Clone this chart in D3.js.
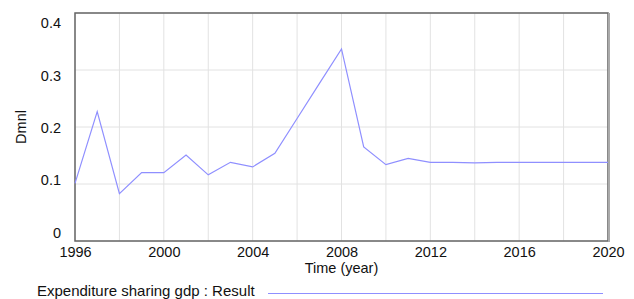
<!DOCTYPE html>
<html lang="en">
<head>
    <meta charset="UTF-8">
    <script src="https://d3js.org/d3.v7.min.js"></script>
</head>
<style>
    body { margin: 0; background-color: #fff; }
    #viz { display: block; }
    .tick text { font-family: 'Liberation Sans', Arial, sans-serif; font-size: 14.5px; fill: #111; }
    .lbl { font-family: 'Liberation Sans', Arial, sans-serif; font-size: 14.5px; fill: #111; }
</style>
<body>
    <svg id="viz" width="634" height="299"></svg>
    <script>
    // values
    var years = [1996, 1997, 1998, 1999, 2000, 2001, 2002, 2003, 2004, 2005, 2006, 2007, 2008,
                 2009, 2010, 2011, 2012, 2013, 2014, 2015, 2016, 2017, 2018, 2019, 2020];
    var result = [0.101, 0.227, 0.083, 0.120, 0.120, 0.151, 0.116, 0.138, 0.130, 0.154, 0.215, 0.276, 0.337,
                  0.165, 0.134, 0.145, 0.138, 0.138, 0.137, 0.138, 0.138, 0.138, 0.138, 0.138, 0.138];
    var xTicks = [1996, 2000, 2004, 2008, 2012, 2016, 2020];
    var xGrid = [1998, 2002, 2006, 2010, 2014, 2018];
    var yTicks = [0, 0.1, 0.2, 0.3, 0.4];

    var svg = d3.select("#viz"),
        margin = {top: 13, right: 26, bottom: 58, left: 75},
        width = +svg.attr("width") - margin.left - margin.right,
        height = +svg.attr("height") - margin.top - margin.bottom;

    var g = svg.append("g").attr("transform", "translate(" + margin.left + "," + margin.top + ")");

    var x = d3.scaleLinear().domain([1996, 2020]).range([0, width]);
    var y = d3.scaleLinear().domain([0, 0.4]).range([height, 0]);
    // the tick labels sit on a slightly shorter span than the grid, as in the original
    var yLabel = d3.scaleLinear().domain([0, 0.4]).range([height - 8.5, 10]);

    // grid
    g.append("g").selectAll("line")
        .data(xTicks.concat(xGrid))
        .enter().append("line")
        .attr("x1", function(d) { return x(d); })
        .attr("x2", function(d) { return x(d); })
        .attr("y1", 0).attr("y2", height)
        .attr("stroke", "#e2e2e2").attr("stroke-width", 1);

    g.append("g").selectAll("line")
        .data(yTicks)
        .enter().append("line")
        .attr("x1", 0).attr("x2", width)
        .attr("y1", function(d) { return y(d); })
        .attr("y2", function(d) { return y(d); })
        .attr("stroke", "#e2e2e2").attr("stroke-width", 1);

    // axes (labels only, frame drawn below)
    var xAxis = g.append("g")
        .attr("transform", "translate(0," + height + ")")
        .call(d3.axisBottom(x).tickValues(xTicks).tickFormat(d3.format("d")).tickSize(0).tickPadding(6));
    xAxis.select(".domain").remove();

    var yAxis = g.append("g")
        .call(d3.axisLeft(yLabel).tickValues(yTicks).tickFormat(function(d) { return d === 0 ? "0" : d3.format(".1f")(d); }).tickSize(0).tickPadding(14));
    yAxis.select(".domain").remove();

    // frame
    g.append("rect")
        .attr("x", 0).attr("y", 0)
        .attr("width", width).attr("height", height)
        .attr("fill", "none")
        .attr("stroke", "#666").attr("stroke-width", 1.5);
    g.append("line")
        .attr("x1", width + 1).attr("x2", width + 1)
        .attr("y1", 0).attr("y2", height + 1)
        .attr("stroke", "#aaa").attr("stroke-width", 2);

    // series
    var line = d3.line()
        .x(function(d, i) { return x(years[i]); })
        .y(function(d) { return y(d); });

    g.append("path")
        .datum(result)
        .attr("fill", "none")
        .attr("stroke", "#8f8fff")
        .attr("stroke-width", 1.2)
        .attr("d", line);

    // titles
    svg.append("text")
        .attr("class", "lbl")
        .attr("x", margin.left + width / 2)
        .attr("y", 273)
        .attr("text-anchor", "middle")
        .text("Time (year)");

    svg.append("text")
        .attr("class", "lbl")
        .attr("transform", "translate(26," + (margin.top + height / 2) + ") rotate(-90)")
        .attr("text-anchor", "middle")
        .text("Dmnl");

    // legend
    svg.append("text")
        .attr("class", "lbl")
        .attr("x", 37)
        .attr("y", 296)
        .style("font-size", "15px")
        .text("Expenditure sharing gdp : Result");
    svg.append("line")
        .attr("x1", 268).attr("x2", 603)
        .attr("y1", 293.5).attr("y2", 293.5)
        .attr("stroke", "#8f8fff").attr("stroke-width", 1.2);
    </script>
</body>
</html>
